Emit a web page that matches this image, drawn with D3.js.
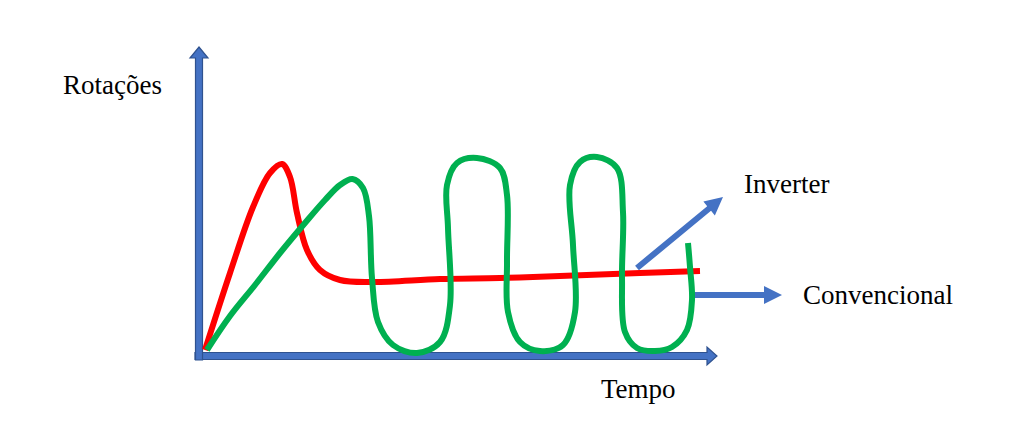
<!DOCTYPE html>
<html>
<head>
<meta charset="utf-8">
<script src="https://cdn.jsdelivr.net/npm/d3@7"></script>
<style>
  body { margin: 0; background: #fff; }
  text { font-family: "Liberation Serif", "Times New Roman", serif; font-size: 27px; fill: #000; }
</style>
</head>
<body>
<svg id="chart"></svg>
<script>
// sketch curves, [tempo, rotacoes]
const convencional = [
    [1, 3], [6, 41.5], [10.6, 74.5], [14, 91.5], [16.4, 96], [18, 89.5], [19.4, 71.5],
    [21.4, 53], [24, 43], [28, 38], [34.6, 37], [48, 38.5], [60, 39], [72, 40],
    [88, 41.5], [100, 42.5]
];
const inverter = [
    [1.4, 3], [6, 20], [11, 35.5], [16, 51.5], [21, 66.5], [25, 78], [28, 85.5], [30.5, 88.5],
    [32.6, 84], [33.8, 70], [34.4, 39],
    [35.6, 17], [38.6, 5.5], [43.4, 1.5], [48, 7], [50, 25.5], [49.6, 64], [49.4, 85.5],
    [51.4, 96.5], [55.4, 99], [60, 94], [61.4, 80.5], [61.4, 47], [61.6, 22], [64, 7],
    [68, 2.5], [72.6, 5.5], [75, 22], [74.6, 55.5], [74, 85.5], [76, 97], [79.4, 99.5],
    [83.4, 94], [84.6, 72], [84.4, 39], [85, 12], [87.4, 4], [91, 2.5], [94.4, 4.5],
    [97.4, 13], [98.4, 28], [98, 44.5], [97.6, 56.5]
];
// label pointers: from, to
const pointers = [
    { label: "Inverter", from: [87.4, 44], to: [104.6, 79.5] },
    { label: "Convencional", from: [99, 30.5], to: [116.4, 30.5] }
];
const axisLabels = { y: "Rotações", x: "Tempo" };

const width = 1024, height = 437;

const x = d3.scaleLinear().domain([0, 100]).range([200, 700]);
const y = d3.scaleLinear().domain([0, 100]).range([356, 156]);

const svg = d3.select("#chart").attr("width", width).attr("height", height);

// block arrow outline between two pixel points
function arrowPath(x0, y0, x1, y1, shaft, headW, headL) {
    const len = Math.hypot(x1 - x0, y1 - y0);
    const ux = (x1 - x0) / len, uy = (y1 - y0) / len;
    const nx = -uy, ny = ux;
    const bx = x1 - ux * headL, by = y1 - uy * headL;
    const p = [
        [x0 + nx * shaft / 2, y0 + ny * shaft / 2],
        [bx + nx * shaft / 2, by + ny * shaft / 2],
        [bx + nx * headW / 2, by + ny * headW / 2],
        [x1, y1],
        [bx - nx * headW / 2, by - ny * headW / 2],
        [bx - nx * shaft / 2, by - ny * shaft / 2],
        [x0 - nx * shaft / 2, y0 - ny * shaft / 2]
    ];
    return "M" + p.map(d => d.join(",")).join("L") + "Z";
}

// Axes
const axes = svg.append("g");
axes.append("path")
    .attr("d", arrowPath(x(-1), y(0), x(103.4), y(0), 7, 18, 10))
    .attr("fill", "#4472c4").attr("stroke", "#2f528f").attr("stroke-width", 1.2);
axes.append("path")
    .attr("d", arrowPath(x(-0.2), y(-2), x(-0.2), y(154.5), 7, 18, 11))
    .attr("fill", "#4472c4").attr("stroke", "#2f528f").attr("stroke-width", 1.2);

// Curves
const line = d3.line()
    .x(d => x(d[0]))
    .y(d => y(d[1]))
    .curve(d3.curveCatmullRom.alpha(0.5));

svg.append("path")
    .datum(convencional)
    .attr("d", line)
    .attr("fill", "none")
    .attr("stroke", "#ff0000")
    .attr("stroke-width", 6)
    .attr("stroke-linejoin", "round");

svg.append("path")
    .datum(inverter)
    .attr("d", line)
    .attr("fill", "none")
    .attr("stroke", "#00b050")
    .attr("stroke-width", 6)
    .attr("stroke-linecap", "butt")
    .attr("stroke-linejoin", "round");

// Pointer arrows
svg.append("g")
    .selectAll("path")
    .data(pointers)
    .join("path")
    .attr("d", d => arrowPath(x(d.from[0]), y(d.from[1]), x(d.to[0]), y(d.to[1]), 6, 18, 18))
    .attr("fill", "#4472c4");

// Labels
svg.append("text").attr("x", 63).attr("y", 94).text(axisLabels.y);
svg.append("text").attr("x", 601).attr("y", 398).text(axisLabels.x);
svg.append("text").attr("x", 744).attr("y", 193).text(pointers[0].label);
svg.append("text").attr("x", 803).attr("y", 304).text(pointers[1].label);
</script>
</body>
</html>
